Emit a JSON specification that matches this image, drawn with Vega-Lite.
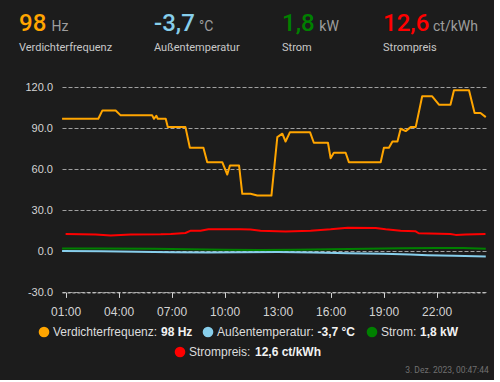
{
  "$schema": "https://vega.github.io/schema/vega-lite/v6.json",
  "background": "#1c1c1c",
  "padding": {"left": 19, "top": 0, "right": 5, "bottom": 5},
  "config": {
    "view": {"stroke": null},
    "font": "Liberation Sans"
  },
  "datasets": {
    "current": [
      {"sensor": "Verdichterfrequenz", "state": "98", "unit": "Hz", "display": "98 Hz"},
      {"sensor": "Außentemperatur", "state": "-3,7", "unit": "°C", "display": "-3,7 °C"},
      {"sensor": "Strom", "state": "1,8", "unit": "kW", "display": "1,8 kW"},
      {"sensor": "Strompreis", "state": "12,6", "unit": "ct/kWh", "display": "12,6 ct/kWh"}
    ],
    "stamp": [{"text": "3. Dez. 2023, 00:47:44"}],
    "series": [
      {"series": "Verdichterfrequenz", "time": "2023-12-02T00:48", "value": 96.8},
      {"series": "Verdichterfrequenz", "time": "2023-12-02T02:51", "value": 96.8},
      {"series": "Verdichterfrequenz", "time": "2023-12-02T03:05", "value": 102.9},
      {"series": "Verdichterfrequenz", "time": "2023-12-02T03:50", "value": 102.9},
      {"series": "Verdichterfrequenz", "time": "2023-12-02T04:07", "value": 99.3},
      {"series": "Verdichterfrequenz", "time": "2023-12-02T05:54", "value": 99.3},
      {"series": "Verdichterfrequenz", "time": "2023-12-02T06:00", "value": 96.8},
      {"series": "Verdichterfrequenz", "time": "2023-12-02T06:08", "value": 99},
      {"series": "Verdichterfrequenz", "time": "2023-12-02T06:13", "value": 96.8},
      {"series": "Verdichterfrequenz", "time": "2023-12-02T06:40", "value": 96.8},
      {"series": "Verdichterfrequenz", "time": "2023-12-02T06:47", "value": 90.7},
      {"series": "Verdichterfrequenz", "time": "2023-12-02T07:47", "value": 90.7},
      {"series": "Verdichterfrequenz", "time": "2023-12-02T08:02", "value": 75.6},
      {"series": "Verdichterfrequenz", "time": "2023-12-02T08:48", "value": 75.6},
      {"series": "Verdichterfrequenz", "time": "2023-12-02T09:01", "value": 65.1},
      {"series": "Verdichterfrequenz", "time": "2023-12-02T09:52", "value": 65.1},
      {"series": "Verdichterfrequenz", "time": "2023-12-02T10:09", "value": 56.1},
      {"series": "Verdichterfrequenz", "time": "2023-12-02T10:18", "value": 62.7},
      {"series": "Verdichterfrequenz", "time": "2023-12-02T10:49", "value": 62.7},
      {"series": "Verdichterfrequenz", "time": "2023-12-02T11:00", "value": 42},
      {"series": "Verdichterfrequenz", "time": "2023-12-02T11:28", "value": 42},
      {"series": "Verdichterfrequenz", "time": "2023-12-02T11:51", "value": 40.7},
      {"series": "Verdichterfrequenz", "time": "2023-12-02T12:39", "value": 40.7},
      {"series": "Verdichterfrequenz", "time": "2023-12-02T12:59", "value": 83.4},
      {"series": "Verdichterfrequenz", "time": "2023-12-02T13:16", "value": 85.9},
      {"series": "Verdichterfrequenz", "time": "2023-12-02T13:27", "value": 80.2},
      {"series": "Verdichterfrequenz", "time": "2023-12-02T13:42", "value": 87},
      {"series": "Verdichterfrequenz", "time": "2023-12-02T14:50", "value": 87},
      {"series": "Verdichterfrequenz", "time": "2023-12-02T15:03", "value": 79.3},
      {"series": "Verdichterfrequenz", "time": "2023-12-02T15:51", "value": 79.3},
      {"series": "Verdichterfrequenz", "time": "2023-12-02T16:00", "value": 68},
      {"series": "Verdichterfrequenz", "time": "2023-12-02T16:11", "value": 72},
      {"series": "Verdichterfrequenz", "time": "2023-12-02T16:51", "value": 72},
      {"series": "Verdichterfrequenz", "time": "2023-12-02T17:02", "value": 65.1},
      {"series": "Verdichterfrequenz", "time": "2023-12-02T18:50", "value": 65.1},
      {"series": "Verdichterfrequenz", "time": "2023-12-02T19:01", "value": 75.6},
      {"series": "Verdichterfrequenz", "time": "2023-12-02T19:18", "value": 75.6},
      {"series": "Verdichterfrequenz", "time": "2023-12-02T19:30", "value": 80.2},
      {"series": "Verdichterfrequenz", "time": "2023-12-02T19:47", "value": 80.2},
      {"series": "Verdichterfrequenz", "time": "2023-12-02T19:58", "value": 89.5},
      {"series": "Verdichterfrequenz", "time": "2023-12-02T20:15", "value": 87.8},
      {"series": "Verdichterfrequenz", "time": "2023-12-02T20:32", "value": 90.7},
      {"series": "Verdichterfrequenz", "time": "2023-12-02T20:49", "value": 90.7},
      {"series": "Verdichterfrequenz", "time": "2023-12-02T21:11", "value": 113.2},
      {"series": "Verdichterfrequenz", "time": "2023-12-02T21:45", "value": 113.2},
      {"series": "Verdichterfrequenz", "time": "2023-12-02T22:08", "value": 107.1},
      {"series": "Verdichterfrequenz", "time": "2023-12-02T22:47", "value": 107.1},
      {"series": "Verdichterfrequenz", "time": "2023-12-02T22:59", "value": 117.6},
      {"series": "Verdichterfrequenz", "time": "2023-12-02T23:50", "value": 117.6},
      {"series": "Verdichterfrequenz", "time": "2023-12-03T00:09", "value": 101},
      {"series": "Verdichterfrequenz", "time": "2023-12-03T00:29", "value": 101},
      {"series": "Verdichterfrequenz", "time": "2023-12-03T00:47", "value": 98},
      {"series": "Außentemperatur", "time": "2023-12-02T00:48", "value": 0.2},
      {"series": "Außentemperatur", "time": "2023-12-02T03:00", "value": 0.0},
      {"series": "Außentemperatur", "time": "2023-12-02T05:00", "value": -0.3},
      {"series": "Außentemperatur", "time": "2023-12-02T07:00", "value": -0.6},
      {"series": "Außentemperatur", "time": "2023-12-02T09:00", "value": -0.8},
      {"series": "Außentemperatur", "time": "2023-12-02T11:00", "value": -0.6},
      {"series": "Außentemperatur", "time": "2023-12-02T13:00", "value": -0.5},
      {"series": "Außentemperatur", "time": "2023-12-02T15:00", "value": -0.9},
      {"series": "Außentemperatur", "time": "2023-12-02T17:00", "value": -1.4},
      {"series": "Außentemperatur", "time": "2023-12-02T19:00", "value": -1.8},
      {"series": "Außentemperatur", "time": "2023-12-02T20:30", "value": -2.4},
      {"series": "Außentemperatur", "time": "2023-12-02T21:30", "value": -2.9},
      {"series": "Außentemperatur", "time": "2023-12-02T23:00", "value": -3.3},
      {"series": "Außentemperatur", "time": "2023-12-03T00:47", "value": -3.7},
      {"series": "Strom", "time": "2023-12-02T00:48", "value": 2.0},
      {"series": "Strom", "time": "2023-12-02T03:00", "value": 2.1},
      {"series": "Strom", "time": "2023-12-02T06:00", "value": 1.8},
      {"series": "Strom", "time": "2023-12-02T08:00", "value": 1.5},
      {"series": "Strom", "time": "2023-12-02T10:00", "value": 1.2},
      {"series": "Strom", "time": "2023-12-02T12:00", "value": 1.0},
      {"series": "Strom", "time": "2023-12-02T14:00", "value": 1.2},
      {"series": "Strom", "time": "2023-12-02T16:00", "value": 1.5},
      {"series": "Strom", "time": "2023-12-02T18:00", "value": 1.8},
      {"series": "Strom", "time": "2023-12-02T20:00", "value": 2.2},
      {"series": "Strom", "time": "2023-12-02T22:00", "value": 2.5},
      {"series": "Strom", "time": "2023-12-02T23:30", "value": 2.4},
      {"series": "Strom", "time": "2023-12-03T00:47", "value": 1.8},
      {"series": "Strompreis", "time": "2023-12-02T01:00", "value": 12.7},
      {"series": "Strompreis", "time": "2023-12-02T02:42", "value": 12.2},
      {"series": "Strompreis", "time": "2023-12-02T03:33", "value": 11.5},
      {"series": "Strompreis", "time": "2023-12-02T04:41", "value": 12.2},
      {"series": "Strompreis", "time": "2023-12-02T06:23", "value": 12.4},
      {"series": "Strompreis", "time": "2023-12-02T06:57", "value": 12.7},
      {"series": "Strompreis", "time": "2023-12-02T07:47", "value": 13.4},
      {"series": "Strompreis", "time": "2023-12-02T08:05", "value": 15.1},
      {"series": "Strompreis", "time": "2023-12-02T08:38", "value": 15.1},
      {"series": "Strompreis", "time": "2023-12-02T09:05", "value": 16.1},
      {"series": "Strompreis", "time": "2023-12-02T10:54", "value": 16.1},
      {"series": "Strompreis", "time": "2023-12-02T11:28", "value": 15.9},
      {"series": "Strompreis", "time": "2023-12-02T12:02", "value": 15.1},
      {"series": "Strompreis", "time": "2023-12-02T13:27", "value": 14.4},
      {"series": "Strompreis", "time": "2023-12-02T14:52", "value": 15.1},
      {"series": "Strompreis", "time": "2023-12-02T16:00", "value": 16.1},
      {"series": "Strompreis", "time": "2023-12-02T16:58", "value": 17.3},
      {"series": "Strompreis", "time": "2023-12-02T18:33", "value": 17.1},
      {"series": "Strompreis", "time": "2023-12-02T19:07", "value": 16.1},
      {"series": "Strompreis", "time": "2023-12-02T19:58", "value": 15.1},
      {"series": "Strompreis", "time": "2023-12-02T20:49", "value": 14.6},
      {"series": "Strompreis", "time": "2023-12-02T20:59", "value": 13.2},
      {"series": "Strompreis", "time": "2023-12-02T22:47", "value": 12.7},
      {"series": "Strompreis", "time": "2023-12-02T23:05", "value": 12.0},
      {"series": "Strompreis", "time": "2023-12-02T23:38", "value": 12.2},
      {"series": "Strompreis", "time": "2023-12-03T00:46", "value": 12.6}
    ]
  },
  "spacing": 8,
  "vconcat": [
    {
      "spacing": 0,
      "hconcat": [
        {
          "width": 135, "height": 72.8,
          "data": {"name": "current"},
          "transform": [{"filter": "datum.sensor === 'Verdichterfrequenz'"}],
          "encoding": {"x": {"field": "sensor", "type": "nominal", "scale": {"type": "point", "align": 0, "padding": 0}, "axis": null}},
          "layer": [
            {"mark": {"type": "text", "align": "left", "baseline": "alphabetic", "dy": -5.4, "font": "Roboto", "fontSize": 24, "fontWeight": 500, "color": "#FFA500"}, "encoding": {"text": {"field": "state"}}},
            {"mark": {"type": "text", "align": "left", "baseline": "alphabetic", "dx": 32.4, "dy": -5.4, "font": "Roboto", "fontSize": 14, "color": "#9e9e9e"}, "encoding": {"text": {"field": "unit"}}},
            {"mark": {"type": "text", "align": "left", "baseline": "alphabetic", "dy": 14.6, "font": "Roboto", "fontSize": 11, "color": "#c8c8c8"}, "encoding": {"text": {"field": "sensor"}}}
          ]
        },
        {
          "width": 127.7, "height": 72.8,
          "data": {"name": "current"},
          "transform": [{"filter": "datum.sensor === 'Außentemperatur'"}],
          "encoding": {"x": {"field": "sensor", "type": "nominal", "scale": {"type": "point", "align": 0, "padding": 0}, "axis": null}},
          "layer": [
            {"mark": {"type": "text", "align": "left", "baseline": "alphabetic", "dy": -5.4, "font": "Roboto", "fontSize": 24, "fontWeight": 500, "color": "#87CEEB"}, "encoding": {"text": {"field": "state"}}},
            {"mark": {"type": "text", "align": "left", "baseline": "alphabetic", "dx": 45, "dy": -5.4, "font": "Roboto", "fontSize": 14, "color": "#9e9e9e"}, "encoding": {"text": {"field": "unit"}}},
            {"mark": {"type": "text", "align": "left", "baseline": "alphabetic", "dy": 14.6, "font": "Roboto", "fontSize": 11, "color": "#c8c8c8"}, "encoding": {"text": {"field": "sensor"}}}
          ]
        },
        {
          "width": 100.6, "height": 72.8,
          "data": {"name": "current"},
          "transform": [{"filter": "datum.sensor === 'Strom'"}],
          "encoding": {"x": {"field": "sensor", "type": "nominal", "scale": {"type": "point", "align": 0, "padding": 0}, "axis": null}},
          "layer": [
            {"mark": {"type": "text", "align": "left", "baseline": "alphabetic", "dy": -5.4, "font": "Roboto", "fontSize": 24, "fontWeight": 500, "color": "#008000"}, "encoding": {"text": {"field": "state"}}},
            {"mark": {"type": "text", "align": "left", "baseline": "alphabetic", "dx": 37.3, "dy": -5.4, "font": "Roboto", "fontSize": 14, "color": "#9e9e9e"}, "encoding": {"text": {"field": "unit"}}},
            {"mark": {"type": "text", "align": "left", "baseline": "alphabetic", "dy": 14.6, "font": "Roboto", "fontSize": 11, "color": "#c8c8c8"}, "encoding": {"text": {"field": "sensor"}}}
          ]
        },
        {
          "width": 100, "height": 72.8,
          "data": {"name": "current"},
          "transform": [{"filter": "datum.sensor === 'Strompreis'"}],
          "encoding": {"x": {"field": "sensor", "type": "nominal", "scale": {"type": "point", "align": 0, "padding": 0}, "axis": null}},
          "layer": [
            {"mark": {"type": "text", "align": "left", "baseline": "alphabetic", "dy": -5.4, "font": "Roboto", "fontSize": 24, "fontWeight": 500, "color": "#FF0000"}, "encoding": {"text": {"field": "state"}}},
            {"mark": {"type": "text", "align": "left", "baseline": "alphabetic", "dx": 50, "dy": -5.4, "font": "Roboto", "fontSize": 14, "color": "#9e9e9e"}, "encoding": {"text": {"field": "unit"}}},
            {"mark": {"type": "text", "align": "left", "baseline": "alphabetic", "dy": 14.6, "font": "Roboto", "fontSize": 11, "color": "#c8c8c8"}, "encoding": {"text": {"field": "sensor"}}}
          ]
        }
      ]
    },
    {
      "spacing": 0,
      "hconcat": [
        {"width": 1, "height": 205.4, "data": {"values": []}, "mark": "point"},
        {
          "width": 424, "height": 205.4,
          "data": {"name": "series"},
          "mark": {"type": "line", "strokeWidth": 2, "strokeJoin": "round"},
          "encoding": {
            "x": {
              "field": "time", "type": "temporal",
              "scale": {"domain": [
                {"year": 2023, "month": 12, "date": 2, "hours": 0, "minutes": 47, "seconds": 44},
                {"year": 2023, "month": 12, "date": 3, "hours": 0, "minutes": 47, "seconds": 44}
              ]},
              "axis": {
                "title": null,
                "values": [
                  {"year": 2023, "month": 12, "date": 2, "hours": 1},
                  {"year": 2023, "month": 12, "date": 2, "hours": 4},
                  {"year": 2023, "month": 12, "date": 2, "hours": 7},
                  {"year": 2023, "month": 12, "date": 2, "hours": 10},
                  {"year": 2023, "month": 12, "date": 2, "hours": 13},
                  {"year": 2023, "month": 12, "date": 2, "hours": 16},
                  {"year": 2023, "month": 12, "date": 2, "hours": 19},
                  {"year": 2023, "month": 12, "date": 2, "hours": 22}
                ],
                "format": "%H:%M",
                "labelFont": "Liberation Sans", "labelFontSize": 12, "labelColor": "#d4d4d4",
                "labelPadding": 9.5, "labelFlush": false,
                "tickSize": 5, "tickColor": "#d4d4d4", "tickWidth": 1,
                "domainColor": "#d4d4d4", "domainDash": [3, 2], "domainWidth": 1,
                "grid": false
              }
            },
            "y": {
              "field": "value", "type": "quantitative",
              "scale": {"domain": [-30, 120], "nice": false, "zero": false},
              "axis": {
                "title": null,
                "values": [-30, 0, 30, 60, 90, 120],
                "labelExpr": "datum.value < 0 ? '-' + format(-datum.value, '.1f') : format(datum.value, '.1f')",
                "labelFont": "Liberation Sans", "labelFontSize": 11, "labelColor": "#d4d4d4",
                "labelPadding": 9.5, "ticks": false, "domain": false,
                "grid": true, "gridColor": "#a0a0a0", "gridDash": [4, 2], "gridWidth": 1,
                "minExtent": 41.5, "maxExtent": 41.5
              }
            },
            "color": {
              "field": "series", "type": "nominal",
              "scale": {"domain": ["Verdichterfrequenz", "Außentemperatur", "Strom", "Strompreis"], "range": ["#FFA500", "#87CEEB", "#008000", "#FF0000"]},
              "legend": null
            }
          }
        }
      ]
    },
    {
      "spacing": 0,
      "hconcat": [
        {"width": 18.3, "height": 12, "data": {"values": []}, "mark": "point"},
        {
          "width": 157.4, "height": 12,
          "data": {"name": "current"},
          "transform": [{"filter": "datum.sensor === 'Verdichterfrequenz'"}, {"calculate": "datum.sensor + ':'", "as": "lab"}],
          "encoding": {"x": {"field": "sensor", "type": "nominal", "scale": {"type": "point", "align": 0, "padding": 0}, "axis": null}},
          "layer": [
            {"mark": {"type": "circle", "size": 113, "opacity": 1, "color": "#FFA500"}},
            {"mark": {"type": "text", "align": "left", "baseline": "middle", "dx": 9, "font": "Liberation Sans", "fontSize": 12, "color": "#dcdcdc"}, "encoding": {"text": {"field": "lab"}}},
            {"mark": {"type": "text", "align": "left", "baseline": "middle", "dx": 117, "font": "Liberation Sans", "fontSize": 12, "fontWeight": "bold", "color": "#f2f2f2"}, "encoding": {"text": {"field": "display"}}}
          ]
        },
        {
          "width": 158, "height": 12,
          "data": {"name": "current"},
          "transform": [{"filter": "datum.sensor === 'Außentemperatur'"}, {"calculate": "datum.sensor + ':'", "as": "lab"}],
          "encoding": {"x": {"field": "sensor", "type": "nominal", "scale": {"type": "point", "align": 0, "padding": 0}, "axis": null}},
          "layer": [
            {"mark": {"type": "circle", "size": 113, "opacity": 1, "color": "#87CEEB"}},
            {"mark": {"type": "text", "align": "left", "baseline": "middle", "dx": 9, "font": "Liberation Sans", "fontSize": 12, "color": "#dcdcdc"}, "encoding": {"text": {"field": "lab"}}},
            {"mark": {"type": "text", "align": "left", "baseline": "middle", "dx": 109.5, "font": "Liberation Sans", "fontSize": 12, "fontWeight": "bold", "color": "#f2f2f2"}, "encoding": {"text": {"field": "display"}}}
          ]
        },
        {
          "width": 100, "height": 12,
          "data": {"name": "current"},
          "transform": [{"filter": "datum.sensor === 'Strom'"}, {"calculate": "datum.sensor + ':'", "as": "lab"}],
          "encoding": {"x": {"field": "sensor", "type": "nominal", "scale": {"type": "point", "align": 0, "padding": 0}, "axis": null}},
          "layer": [
            {"mark": {"type": "circle", "size": 113, "opacity": 1, "color": "#008000"}},
            {"mark": {"type": "text", "align": "left", "baseline": "middle", "dx": 9, "font": "Liberation Sans", "fontSize": 12, "color": "#dcdcdc"}, "encoding": {"text": {"field": "lab"}}},
            {"mark": {"type": "text", "align": "left", "baseline": "middle", "dx": 48, "font": "Liberation Sans", "fontSize": 12, "fontWeight": "bold", "color": "#f2f2f2"}, "encoding": {"text": {"field": "display"}}}
          ]
        }
      ]
    },
    {
      "spacing": 0,
      "hconcat": [
        {"width": 155, "height": 12, "data": {"values": []}, "mark": "point"},
        {
          "width": 150, "height": 12,
          "data": {"name": "current"},
          "transform": [{"filter": "datum.sensor === 'Strompreis'"}, {"calculate": "datum.sensor + ':'", "as": "lab"}],
          "encoding": {"x": {"field": "sensor", "type": "nominal", "scale": {"type": "point", "align": 0, "padding": 0}, "axis": null}},
          "layer": [
            {"mark": {"type": "circle", "size": 113, "opacity": 1, "color": "#FF0000"}},
            {"mark": {"type": "text", "align": "left", "baseline": "middle", "dx": 9, "font": "Liberation Sans", "fontSize": 12, "color": "#dcdcdc"}, "encoding": {"text": {"field": "lab"}}},
            {"mark": {"type": "text", "align": "left", "baseline": "middle", "dx": 75, "font": "Liberation Sans", "fontSize": 12, "fontWeight": "bold", "color": "#f2f2f2"}, "encoding": {"text": {"field": "display"}}}
          ]
        }
      ]
    },
    {
      "width": 469.7, "height": 2,
      "data": {"name": "stamp"},
      "mark": {"type": "text", "align": "right", "baseline": "middle", "dy": -2, "font": "Roboto", "fontSize": 8.5, "color": "#707070"},
      "encoding": {
        "x": {"field": "text", "type": "nominal", "scale": {"type": "point", "align": 1, "padding": 0}, "axis": null},
        "text": {"field": "text"}
      }
    }
  ]
}
